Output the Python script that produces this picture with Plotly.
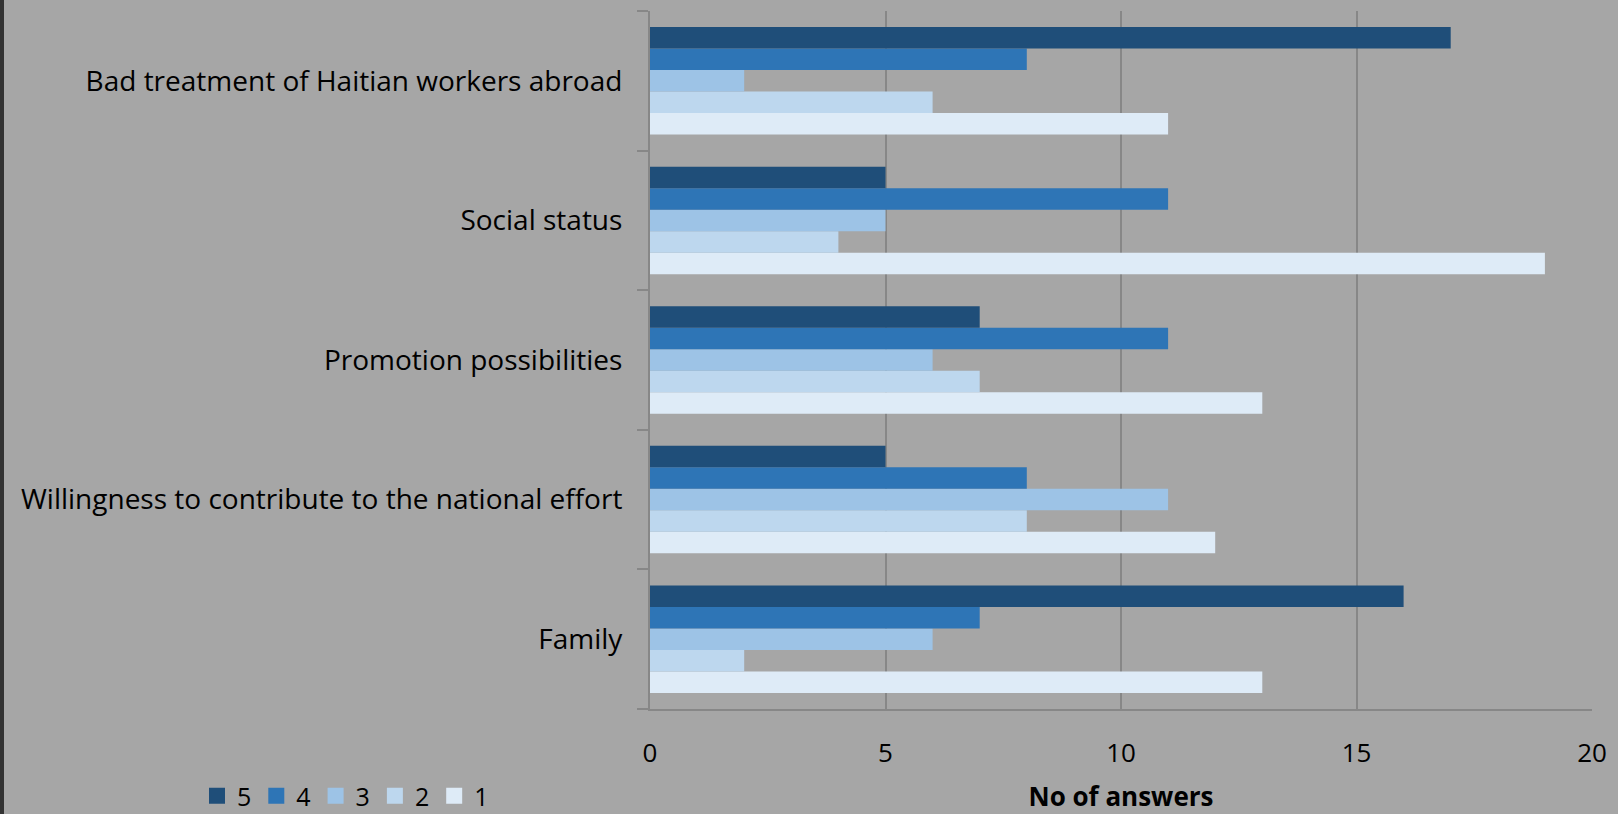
import plotly.graph_objects as go

categories = [
    "Family",
    "Willingness to contribute to the national effort",
    "Promotion possibilities",
    "Social status",
    "Bad treatment of Haitian workers abroad",
]
series_names = ["1", "2", "3", "4", "5"]
values_1 = [13, 12, 13, 19, 11]
values_2 = [2, 8, 7, 4, 6]
values_3 = [6, 11, 6, 5, 2]
values_4 = [7, 8, 11, 11, 8]
values_5 = [16, 5, 7, 5, 17]
colors = ["#deebf7", "#bdd7ee", "#9dc3e6", "#2e75b6", "#1f4e79"]
x_ticks = [0, 5, 10, 15, 20]

all_values = [values_1, values_2, values_3, values_4, values_5]

fig = go.Figure()
for name, vals, col in zip(series_names, all_values, colors):
    fig.add_trace(go.Bar(
        y=categories, x=vals, name=name, orientation="h",
        marker=dict(color=col, line=dict(width=0)),
        legendgroup=name, showlegend=False,
    ))
# legend entries with larger square swatches
for name, col in zip(series_names, colors):
    fig.add_trace(go.Scatter(
        x=[None], y=[None], mode="markers", name=name, legendgroup=name,
        marker=dict(symbol="square", size=16, color=col), showlegend=True,
    ))

W, H = 1618, 814
L, R, T, B = 650, 26, 11, 105
pw = W - L - R
ph = H - T - B

fig.update_layout(
    width=W, height=H,
    margin=dict(l=L, r=R, t=T, b=B, autoexpand=False),
    barmode="group", bargap=0.23, bargroupgap=0,
    paper_bgcolor="#a6a6a6", plot_bgcolor="#a6a6a6",
    font=dict(family="Open Sans", color="#000000", size=24),
    legend=dict(
        orientation="h", traceorder="reversed",
        x=(197 - L) / pw, xanchor="left",
        y=-(796 - (H - B)) / ph, yanchor="middle",
        font=dict(size=25), itemwidth=30,
        bgcolor="rgba(0,0,0,0)",
    ),
    showlegend=True,
)
fig.update_xaxes(
    range=[0, 20], tickvals=x_ticks, showgrid=True, gridcolor="#878787", gridwidth=2,
    showline=True, linecolor="#878787", linewidth=2, ticks="",
    tickfont=dict(size=26), ticklabelstandoff=20, zeroline=False, automargin=False,
    title=dict(text="<b>No of answers</b>", font=dict(size=26), standoff=20),
)
fig.update_yaxes(
    showline=True, linecolor="#878787", linewidth=2,
    ticks="outside", ticklen=11, tickcolor="#878787", tickwidth=2,
    tickson="boundaries", tickfont=dict(size=28), ticklabelstandoff=20,
    showgrid=False, automargin=False,
)
# dark strip at left edge of the page
fig.add_shape(type="rect", xref="paper", yref="paper",
              x0=-L / pw, x1=-(L - 4) / pw, y0=-B / ph, y1=1 + T / ph,
              fillcolor="#333333", line=dict(width=0), layer="above")

fig.write_html("out.html")
